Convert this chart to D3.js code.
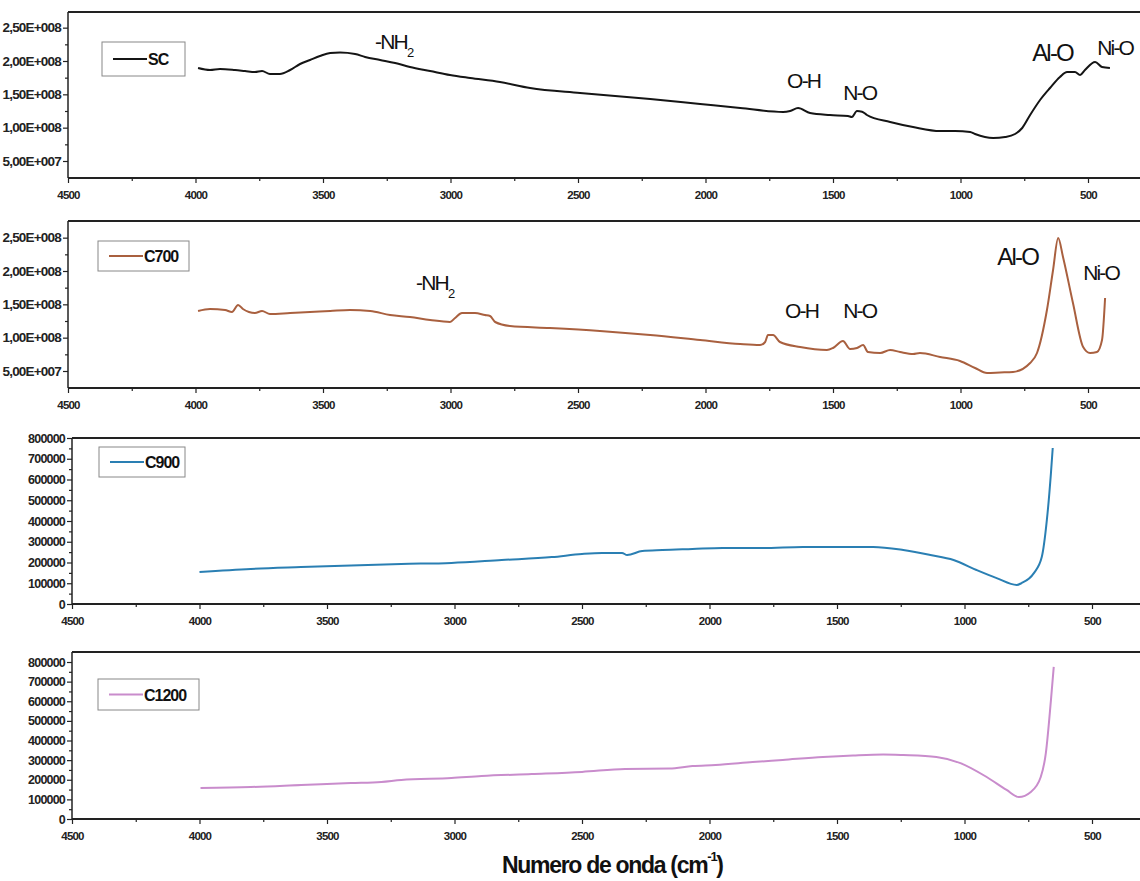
<!DOCTYPE html>
<html>
<head>
<meta charset="utf-8">
<script src="https://cdn.jsdelivr.net/npm/d3@7"></script>
<style>
  body { margin: 0; background: #fff; }
  svg { display: block; font-family: "Liberation Sans", Arial, sans-serif; }
</style>
</head>
<body>
<svg id="chart" width="1140" height="881"></svg>
<script>
// ---- FTIR spectra: wavenumber (cm-1) and intensity ----
// SC and C700 intensities are given in millions, C900 and C1200 in thousands.
const scWave = [3990,3943,3904,3845,3806,3767,3739,3708,3669,3629,3590,3551,3512,3472,3433,3374,3335,3276,3217,3159,3080,3002,2923,2806,2688,2492,2217,2021,1864,1696,1668,1637,1590,1512,1441,1426,1406,1386,1367,1276,1186,1080,1021,962,943,872,825,786,758,727,688,649,610,582,551,531,512,472,445,414];
const scValue = [189.5,186.5,188,186.5,185,183.5,185,180.5,180.5,186.5,195.5,201.5,207.5,212,212.75,210.5,206,201.5,197,191,185,179,174.5,168.5,159.5,152,143,135.5,129.5,123.5,125,129.5,122,119,117.5,116,125,124,119,108.5,101,95,95,93.5,90.5,84.5,86,90.5,99.5,119,141.5,159.5,176,183.5,183.5,179,186.5,198.5,191,189.5];

const c700Wave = [3990,3943,3884,3857,3833,3814,3767,3739,3708,3629,3551,3472,3394,3315,3237,3159,3080,3002,2982,2955,2904,2865,2845,2825,2767,2610,2414,2217,2021,1864,1786,1766,1755,1735,1708,1629,1524,1500,1461,1433,1406,1382,1363,1315,1276,1237,1186,1159,1080,1002,943,896,845,794,727,700,661,637,617,598,559,519,492,465,445,433];
const c700Value = [140,143,141.5,138.5,149,143,137,140,135.5,137,138.5,140,141.5,140,134,131,126.5,123.5,129.5,137,137,134,132.5,123.5,117.5,114.5,110,104,96.5,90.5,89,93.5,104,104,93.5,86,81.5,84.5,95,83,84.5,89,78.5,77,81.5,78.5,75.5,77,71,65,54.5,47,47.75,48.5,62,77,141.5,201.5,249.5,221,152,86,77,78.5,96.5,159.5];

const c900Wave = [4000,3799,3602,3209,3012,2815,2618,2500,2421,2343,2323,2264,2185,2067,1949,1791,1634,1516,1358,1240,1134,1043,953,874,795,776,728,697,677,661,654];
const c900Value = [154,169,178,193,198,212,226,241,246,246,236,255,260,265,270,270,275,275,275,260,236,212,164,125,92,101,149,226,405,631,752];

const c1200Wave = [3996,3799,3602,3406,3287,3209,3012,2894,2697,2500,2331,2157,2067,1976,1831,1713,1555,1437,1319,1240,1110,1016,913,835,787,740,701,681,661,650];
const c1200Value = [158,163,173,183,189,199,209,219,229,240,255,257,270,275,290,301,316,324,329,326,316,285,214,148,112,138,214,336,606,775];

// ---- axis ticks ----
const waveTicks = [4500,4000,3500,3000,2500,2000,1500,1000,500];
const waveTickLabels = ["4500","4000","3500","3000","2500","2000","1500","1000","500"];
const waveMinorTicks = [4250,3750,3250,2750,2250,1750,1250,750];

const sciTicks = [5e7,1e8,1.5e8,2e8,2.5e8];
const sciTickLabels = ["5,00E+007","1,00E+008","1,50E+008","2,00E+008","2,50E+008"];
const sciMinorTicks = [7.5e7,1.25e8,1.75e8,2.25e8];

const countTicks = [0,100000,200000,300000,400000,500000,600000,700000,800000];
const countTickLabels = ["0","100000","200000","300000","400000","500000","600000","700000","800000"];
const countMinorTicks = [50000,150000,250000,350000,450000,550000,650000,750000];

// ---- band assignments (label, wavenumber, intensity at baseline) ----
const scBands = [
  {label: "-NH", sub: "2", wave: 3296, value: 218e6},
  {label: "O-H", wave: 1680, value: 159.5e6},
  {label: "N-O", wave: 1460, value: 141.5e6},
  {label: "Al-O", wave: 719, value: 200e6, big: true},
  {label: "Ni-O", wave: 464, value: 209e6}
];
const c700Bands = [
  {label: "-NH", sub: "2", wave: 3135, value: 171.5e6},
  {label: "O-H", wave: 1688, value: 129.5e6},
  {label: "N-O", wave: 1460, value: 129.5e6},
  {label: "Al-O", wave: 856, value: 209e6, big: true},
  {label: "Ni-O", wave: 519, value: 186.5e6}
];

const panels = [
  {name: "SC", color: "#151515", wave: scWave, value: scValue.map(v => v * 1e6),
   left: 68, top: 12, bottom: 178, yDomain: [24.5e6, 273.5e6],
   ticks: sciTicks, tickLabels: sciTickLabels, minor: sciMinorTicks, labelSize: 13.5,
   legend: {x: 102, dy: 30, w: 83, h: 34}, bands: scBands},
  {name: "C700", color: "#a9603f", wave: c700Wave, value: c700Value.map(v => v * 1e6),
   left: 68, top: 221, bottom: 388, yDomain: [24.5e6, 275e6],
   ticks: sciTicks, tickLabels: sciTickLabels, minor: sciMinorTicks, labelSize: 13.5,
   legend: {x: 98, dy: 20, w: 91, h: 30}, bands: c700Bands},
  {name: "C900", color: "#2a7fb3", wave: c900Wave, value: c900Value.map(v => v * 1e3),
   left: 72, top: 438, bottom: 604, yDomain: [0, 800000],
   ticks: countTicks, tickLabels: countTickLabels, minor: countMinorTicks, labelSize: 12.5,
   legend: {x: 99, dy: 9, w: 86, h: 30}, bands: []},
  {name: "C1200", color: "#c98ccc", wave: c1200Wave, value: c1200Value.map(v => v * 1e3),
   left: 72, top: 652, bottom: 819, yDomain: [0, 851000],
   ticks: countTicks, tickLabels: countTickLabels, minor: countMinorTicks, labelSize: 12.5,
   legend: {x: 98, dy: 27, w: 101, h: 31}, bands: []}
];

const W = 1140;
const pxPer500 = 127.5;
const svg = d3.select("#chart");
const defs = svg.append("defs");

panels.forEach((p, pi) => {
  const x = d3.scaleLinear().domain([4500, 0]).range([p.left, p.left + 9 * pxPer500]);
  const y = d3.scaleLinear().domain(p.yDomain).range([p.bottom, p.top]);
  const g = svg.append("g");

  defs.append("clipPath").attr("id", "clip" + pi)
    .append("rect").attr("x", p.left).attr("y", p.top).attr("width", W - p.left).attr("height", p.bottom - p.top);

  // top frame line
  g.append("line").attr("x1", p.left).attr("x2", W).attr("y1", p.top).attr("y2", p.top)
    .attr("stroke", "#222").attr("stroke-width", 2);

  // x axis (major + minor)
  const xAxis = g.append("g").attr("transform", `translate(0,${p.bottom})`)
    .call(d3.axisBottom(x).tickValues(waveTicks).tickFormat((d, i) => waveTickLabels[i]).tickSize(5).tickPadding(8));
  g.append("g").attr("transform", `translate(0,${p.bottom})`)
    .call(d3.axisBottom(x).tickValues(waveMinorTicks).tickFormat("").tickSize(3))
    .select(".domain").remove();
  xAxis.select(".domain").attr("stroke", "#222").attr("stroke-width", 2).attr("d", `M${p.left},0H${W}`);
  xAxis.selectAll("text").attr("font-size", 11.5).attr("font-weight", "bold")
    .attr("letter-spacing", "-0.8px").attr("fill", "#222");

  // y axis (major + minor)
  const yAxis = g.append("g").attr("transform", `translate(${p.left},0)`)
    .call(d3.axisLeft(y).tickValues(p.ticks).tickFormat((d, i) => p.tickLabels[i]).tickSize(5).tickPadding(2));
  g.append("g").attr("transform", `translate(${p.left},0)`)
    .call(d3.axisLeft(y).tickValues(p.minor).tickFormat("").tickSize(3))
    .select(".domain").remove();
  yAxis.select(".domain").attr("stroke", "#222").attr("stroke-width", 1.5)
    .attr("d", `M0,${p.bottom}V${p.top}`);
  yAxis.selectAll("text").attr("font-size", p.labelSize).attr("font-weight", "bold")
    .attr("letter-spacing", "-0.8px").attr("fill", "#222");
  g.selectAll(".tick line").attr("stroke", "#222").attr("stroke-width", 1.2);

  // spectrum
  const line = d3.line().x((d, i) => x(p.wave[i])).y(d => y(d)).curve(d3.curveMonotoneX);
  g.append("path").datum(p.value)
    .attr("clip-path", `url(#clip${pi})`)
    .attr("fill", "none").attr("stroke", p.color).attr("stroke-width", 2)
    .attr("stroke-linejoin", "round").attr("d", line);

  // legend
  const ly = p.top + p.legend.dy;
  const lg = g.append("g");
  lg.append("rect").attr("x", p.legend.x).attr("y", ly).attr("width", p.legend.w).attr("height", p.legend.h)
    .attr("fill", "#fff").attr("stroke", "#888").attr("stroke-width", 1);
  lg.append("line").attr("x1", p.legend.x + 11).attr("x2", p.legend.x + 45)
    .attr("y1", ly + p.legend.h / 2).attr("y2", ly + p.legend.h / 2)
    .attr("stroke", p.color).attr("stroke-width", 2.2);
  lg.append("text").attr("x", p.legend.x + 46).attr("y", ly + p.legend.h / 2 + 6)
    .attr("font-size", 16).attr("font-weight", "bold").attr("letter-spacing", "-1px")
    .attr("fill", "#111").text(p.name);

  // band assignments
  p.bands.forEach(b => {
    const t = g.append("text").attr("x", x(b.wave)).attr("y", y(b.value))
      .attr("font-size", b.big ? 24 : 21).attr("letter-spacing", "-1.8px").attr("fill", "#111");
    t.append("tspan").text(b.label);
    if (b.sub) t.append("tspan").attr("dy", 8).attr("font-size", 13).text(b.sub);
  });
});

// x axis title
const title = svg.append("text").attr("x", 502).attr("y", 873)
  .attr("font-size", 23).attr("font-weight", "bold").attr("letter-spacing", "-1.3px").attr("fill", "#111");
title.append("tspan").text("Numero de onda (cm");
title.append("tspan").attr("dy", -12).attr("font-size", 13).text("-1");
title.append("tspan").attr("dy", 12).text(")");
</script>
</body>
</html>
